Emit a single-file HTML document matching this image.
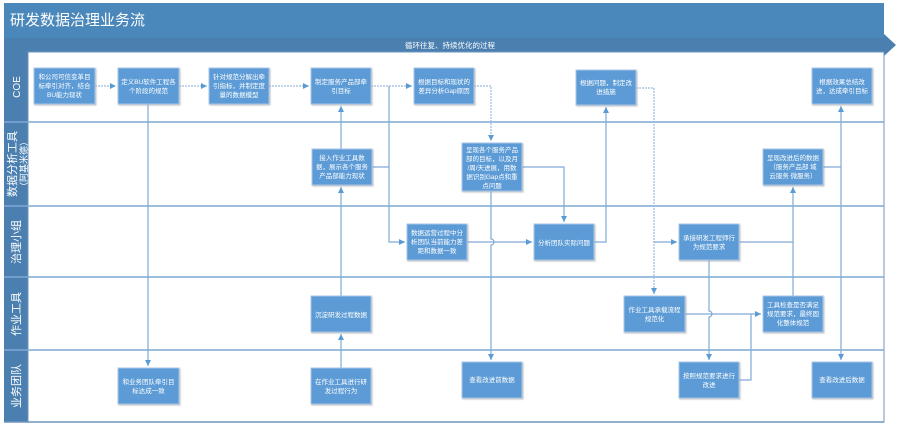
<!DOCTYPE html>
<html><head><meta charset="utf-8"><style>
html,body{margin:0;padding:0;background:#fff;}
svg text{font-family:"Liberation Sans","Noto Sans CJK SC",sans-serif;}
.b{fill:#5b9bd5;stroke:#a9c6e6;stroke-width:1;}
.t{fill:#fff;font-size:6.5px;text-anchor:middle;}
.l{stroke:#7fa9d6;stroke-width:1.2;fill:none;}
.d{stroke:#9bbbe0;stroke-width:1.2;fill:none;stroke-dasharray:2 1;}
.lane{fill:#fff;font-size:11px;text-anchor:middle;}
</style></head><body>
<svg width="900" height="428" viewBox="0 0 900 428" xmlns="http://www.w3.org/2000/svg">
<defs><marker id="a" markerWidth="8" markerHeight="8" refX="6" refY="3" orient="auto" markerUnits="userSpaceOnUse"><path d="M0,0 L6,3 L0,6 z" fill="#5b9bd5"/></marker>
<filter id="s" x="-10%" y="-10%" width="130%" height="130%"><feDropShadow dx="1" dy="1" stdDeviation="0.8" flood-color="#999" flood-opacity="0.6"/></filter></defs>
<!-- title -->
<rect x="4" y="3" width="880" height="35" fill="#4a87bb"/>
<text x="10" y="25" fill="#fff" style="font-size:15px">研发数据治理业务流</text>
<!-- banner -->
<path d="M4,38 L884,38 L884,34 L896,45 L884,56 L884,52 L4,52 z" fill="#4a7fb0"/>
<text x="450" y="48" fill="#fff" style="font-size:7.5px" text-anchor="middle">循环往复、持续优化的过程</text>
<!-- lanes -->
<rect x="4" y="52" width="24" height="370" fill="#4a7fb0"/>
<rect x="28" y="52" width="856" height="370" fill="#fff" stroke="#6d96c0" stroke-width="1"/>
<g stroke="#7fa9d6" stroke-width="1.5">
<line x1="4" y1="122" x2="884" y2="122"/><line x1="4" y1="206" x2="884" y2="206"/><line x1="4" y1="277" x2="884" y2="277"/><line x1="4" y1="350" x2="884" y2="350"/></g>
<line x1="4" y1="422" x2="884" y2="422" stroke="#6d96c0" stroke-width="1.5"/>
<g class="lane">
<text transform="translate(20,87) rotate(-90)" style="font-size:10px">COE</text>
<text transform="translate(16,164) rotate(-90)">数据分析工具</text>
<text transform="translate(27,164) rotate(-90)" style="font-size:9px">（阿基米德）</text>
<text transform="translate(20,242) rotate(-90)">治理小组</text>
<text transform="translate(20,314) rotate(-90)">作业工具</text>
<text transform="translate(20,386) rotate(-90)">业务团队</text>
</g>
<!-- connectors -->
<path class="d" d="M95,86 L116,86" marker-end="url(#a)"/>
<path class="d" d="M179,86 L207,86" marker-end="url(#a)"/>
<path class="d" d="M269,86 L309,86" marker-end="url(#a)"/>
<path class="d" d="M371,86 L412,86" marker-end="url(#a)"/>
<path class="l" d="M389,86 L389,242 L405,242" marker-end="url(#a)"/>
<path class="l" d="M372,167 L389,167"/>
<path class="l" d="M148,104 L148,366" marker-end="url(#a)"/>
<path class="l" d="M341,368 L341,334" marker-end="url(#a)"/>
<path class="l" d="M341,296 L341,187" marker-end="url(#a)"/>
<path class="l" d="M341,149 L341,106" marker-end="url(#a)"/>
<path class="d" d="M474,86 L491,86 L491,141" marker-end="url(#a)"/>
<path class="l" d="M522,167 L564,167 L564,222" marker-end="url(#a)"/>
<path class="l" d="M467,242 L532,242" marker-end="url(#a)"/>
<path class="l" d="M491,191 L491,239 A3,3 0 0 1 491,245 L491,360" marker-end="url(#a)"/>
<path class="l" d="M594,242 L606,242 L606,107" marker-end="url(#a)"/>
<path class="d" d="M636,88 L654,88 L654,294" marker-end="url(#a)"/>
<path class="l" d="M654,242 L677,242" marker-end="url(#a)"/>
<path class="l" d="M709,260 L709,311 A3,3 0 0 1 709,317 L709,360" marker-end="url(#a)"/>
<path class="l" d="M739,242 L793,242 L793,187" marker-end="url(#a)"/>
<path class="l" d="M793,242 L793,296"/>
<path class="l" d="M685,314 L761,314" marker-end="url(#a)"/>
<path class="l" d="M739,380 L751,380 L751,314"/>
<path class="l" d="M823,167 L841,167"/>
<path class="l" d="M841,167 L841,106" marker-end="url(#a)"/>
<path class="l" d="M841,167 L841,360" marker-end="url(#a)"/>
<!-- boxes -->
<g filter="url(#s)">
<rect class="b" x="34" y="68" width="61" height="36"/>
<rect class="b" x="118" y="68" width="61" height="36"/>
<rect class="b" x="209" y="68" width="60" height="36"/>
<rect class="b" x="311" y="68" width="60" height="36"/>
<rect class="b" x="414" y="68" width="60" height="36"/>
<rect class="b" x="576" y="70" width="60" height="35"/>
<rect class="b" x="812" y="68" width="60" height="36"/>
<rect class="b" x="312" y="149" width="60" height="36"/>
<rect class="b" x="462" y="143" width="60" height="48"/>
<rect class="b" x="763" y="149" width="60" height="36"/>
<rect class="b" x="407" y="224" width="60" height="36"/>
<rect class="b" x="534" y="224" width="60" height="36"/>
<rect class="b" x="679" y="224" width="60" height="36"/>
<rect class="b" x="311" y="296" width="60" height="36"/>
<rect class="b" x="624" y="296" width="61" height="36"/>
<rect class="b" x="763" y="296" width="60" height="36"/>
<rect class="b" x="118" y="368" width="61" height="36"/>
<rect class="b" x="311" y="368" width="60" height="36"/>
<rect class="b" x="462" y="362" width="60" height="36"/>
<rect class="b" x="679" y="362" width="60" height="36"/>
<rect class="b" x="812" y="362" width="60" height="36"/>
</g>
<g class="t">
<text x="64.5" y="79">和公司可信变革目</text><text x="64.5" y="88">标牵引对齐，结合</text><text x="64.5" y="97">BU能力现状</text>
<text x="148.5" y="84">定义BU软件工程各</text><text x="148.5" y="93">个阶段的规范</text>
<text x="239" y="79">针对规范分解出牵</text><text x="239" y="88">引指标，并制定度</text><text x="239" y="97">量的数据模型</text>
<text x="341" y="84">制定服务产品部牵</text><text x="341" y="93">引目标</text>
<text x="444" y="84">根据目标和现状的</text><text x="444" y="93">差异分析Gap原因</text>
<text x="606" y="85">根据问题，制定改</text><text x="606" y="94">进措施</text>
<text x="842" y="84">根据效果总结改</text><text x="842" y="93">进，达成牵引目标</text>
<text x="342" y="160">接入作业工具数</text><text x="342" y="169">据，展示各个服务</text><text x="342" y="178">产品部能力现状</text>
<text x="492" y="152">呈现各个服务产品</text><text x="492" y="161">部的目标，以及月</text><text x="492" y="170">/周/天进展，用数</text><text x="492" y="179">据识别Gap点和重</text><text x="492" y="188">点问题</text>
<text x="793" y="160">呈现改进后的数据</text><text x="793" y="169">（服务产品部 域</text><text x="793" y="178">云服务 微服务）</text>
<text x="437" y="235">数据运营过程中分</text><text x="437" y="244">析团队当前能力差</text><text x="437" y="253">距和数据一致</text>
<text x="564" y="245">分析团队实际问题</text>
<text x="709" y="240">承接研发工程师行</text><text x="709" y="249">为规范要求</text>
<text x="341" y="317">沉淀研发过程数据</text>
<text x="654.5" y="312">作业工具承载流程</text><text x="654.5" y="321">规范化</text>
<text x="793" y="307">工具检查是否满足</text><text x="793" y="316">规范要求，最终固</text><text x="793" y="325">化整体规范</text>
<text x="148.5" y="384">和业务团队牵引目</text><text x="148.5" y="393">标达成一致</text>
<text x="341" y="384">在作业工具进行研</text><text x="341" y="393">发过程行为</text>
<text x="492" y="382">查看改进前数据</text>
<text x="709" y="378">按照规范要求进行</text><text x="709" y="387">改进</text>
<text x="842" y="382">查看改进后数据</text>
</g>
</svg>
</body></html>
